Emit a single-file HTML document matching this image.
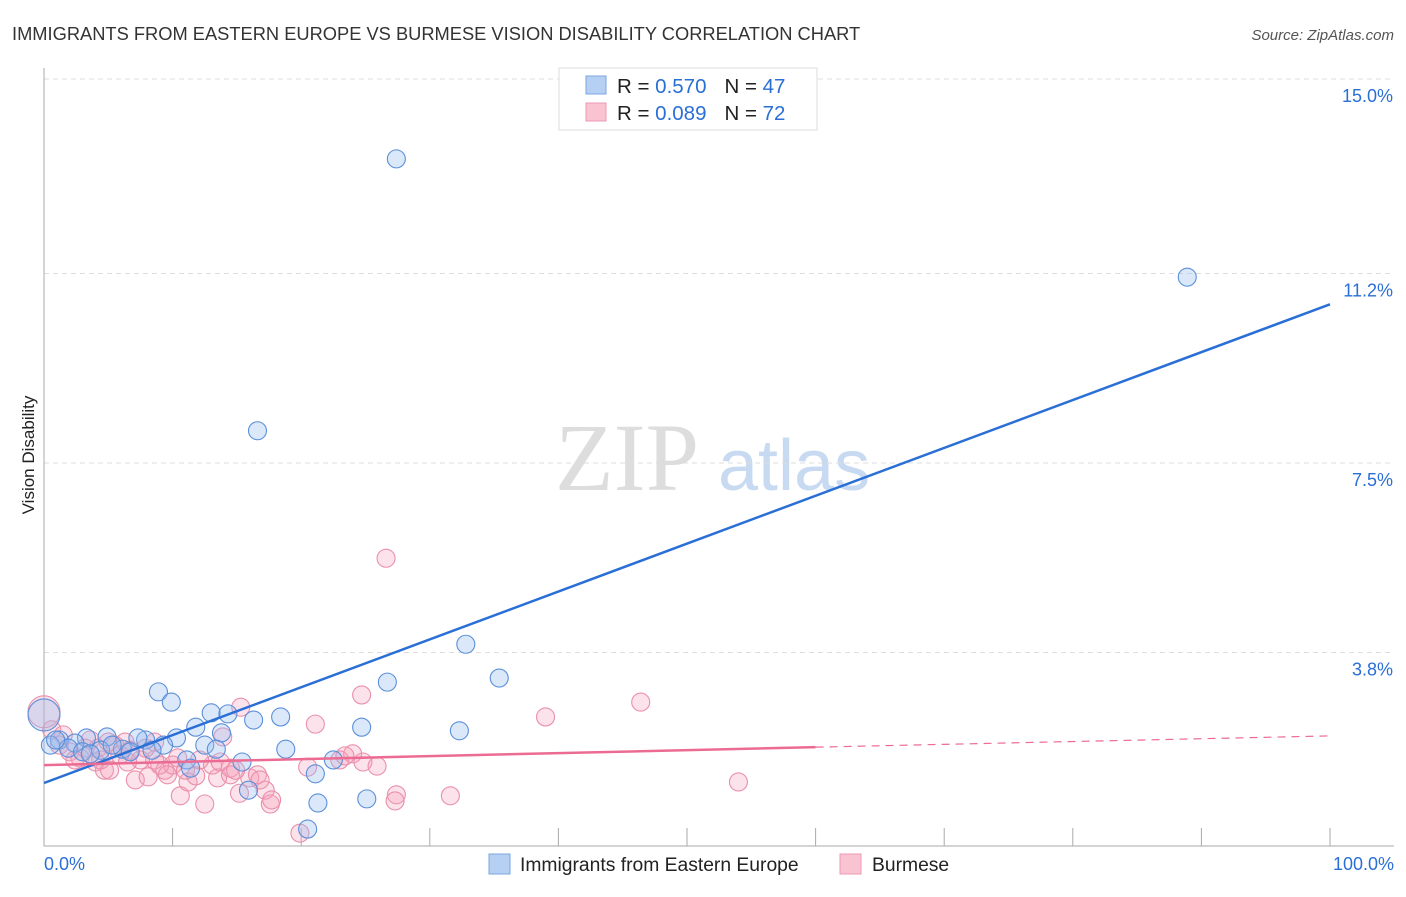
<!DOCTYPE html>
<html><head><meta charset="utf-8"><style>
body{margin:0;background:#fff;font-family:"Liberation Sans",sans-serif;}
svg text{font-family:"Liberation Sans",sans-serif;}
</style></head><body>
<svg id="chart" width="1406" height="892" xmlns="http://www.w3.org/2000/svg">
<text x="12" y="40" font-size="18.3" fill="#333">IMMIGRANTS FROM EASTERN EUROPE VS BURMESE VISION DISABILITY CORRELATION CHART</text>
<text x="1394" y="40" font-size="15" fill="#555" font-style="italic" text-anchor="end">Source: ZipAtlas.com</text>
<text x="34" y="455" font-size="17" fill="#222" text-anchor="middle" transform="rotate(-90 34 455)">Vision Disability</text>
<g>
<text x="555" y="490" font-size="96" fill="#ddd" font-family="Liberation Serif" style="font-family:'Liberation Serif',serif">ZIP</text>
<text x="718" y="490" font-size="72" fill="#c8daf2">atlas</text>
</g>
<g id="grid"></g><g id="axes"></g><g id="marks"></g><g id="lines"></g>
<g>
<rect x="559" y="68" width="258" height="62" fill="#fff" stroke="#ddd"/>
<rect x="586" y="76" width="20" height="18" fill="#b5d0f3" stroke="#7aa6e0"/>
<rect x="586" y="103" width="20" height="18" fill="#f9c3d2" stroke="#eb9ab2"/>
<text x="617" y="93" font-size="20.5" fill="#222">R = <tspan fill="#2a6fd6">0.570</tspan><tspan dx="18">N = </tspan><tspan fill="#2a6fd6">47</tspan></text>
<text x="617" y="120" font-size="20.5" fill="#222">R = <tspan fill="#2a6fd6">0.089</tspan><tspan dx="18">N = </tspan><tspan fill="#2a6fd6">72</tspan></text>
</g>
<g>
<rect x="489" y="854" width="21" height="20" fill="#b5d0f3" stroke="#7aa6e0"/>
<text x="520" y="871" font-size="19.3" fill="#222">Immigrants from Eastern Europe</text>
<rect x="840" y="854" width="21" height="20" fill="#f9c3d2" stroke="#eb9ab2"/>
<text x="872" y="871" font-size="19.3" fill="#222">Burmese</text>
</g>
</svg>
<script>
const yTicks=[3.8,7.5,11.2,15.0];
const yTickLabels=["3.8%","7.5%","11.2%","15.0%"];
const xTickLabels=["0.0%","100.0%"];
const blueX=[27.4,88.9,16.6,32.8,35.4,26.7,8.9,9.9,13.0,14.3,16.3,18.4,24.7,32.3,11.8,13.8,10.3,4.9,3.3,1.2,2.4,7.9,7.3,9.3,12.5,13.4,18.8,6.1,4.4,1.9,0.5,3.0,6.7,11.1,15.4,22.5,21.1,11.4,15.9,21.3,25.1,20.5,0,0.9,5.3,8.4,3.6];
const blueY=[13.44,11.13,8.13,3.96,3.30,3.22,3.03,2.83,2.62,2.60,2.48,2.54,2.34,2.27,2.34,2.23,2.13,2.15,2.13,2.09,2.03,2.09,2.13,1.99,1.99,1.91,1.91,1.91,1.89,1.93,1.99,1.86,1.86,1.70,1.66,1.70,1.43,1.54,1.11,0.86,0.94,0.35,2.58,2.09,1.99,1.89,1.82];
const pinkX=[26.6,46.4,24.7,39.0,15.3,21.1,13.9,0,0.6,1.2,2.0,2.8,4.0,4.7,5.5,6.3,7.1,8.1,8.6,9.4,10.0,10.6,11.2,11.8,12.5,13.1,13.5,14.5,15.2,16.0,16.6,17.2,17.6,19.9,20.5,23.0,24.0,24.8,25.9,27.4,27.3,31.6,54.0,3.6,4.4,5.1,7.5,9.0,5.9,6.7,2.4,3.2,10.4,12.1,13.7,14.5,7.9,8.6,1.5,4.2,5.0,6.5,9.6,11.0,23.4,14.9,16.8,17.7];
const pinkY=[5.64,2.83,2.97,2.54,2.73,2.40,2.15,2.64,2.29,1.99,1.86,1.74,1.66,1.50,1.99,2.05,1.31,1.37,1.70,1.50,1.60,1.00,1.27,1.39,0.84,1.60,1.35,1.54,1.05,1.35,1.41,1.11,0.84,0.27,1.56,1.70,1.82,1.66,1.58,1.02,0.90,1.00,1.27,2.09,1.70,1.50,1.70,1.60,1.80,1.89,1.70,1.93,1.74,1.70,1.66,1.41,1.93,2.05,2.19,1.93,2.05,1.66,1.41,1.50,1.78,1.50,1.31,0.92];
const blueTrend=[1.25,10.6];
const pinkTrend=[1.6,1.95,2.17];
const NS="http://www.w3.org/2000/svg";
const X=v=>44+v*12.86, Y=v=>847-v*51.2;
function mk(p,t,a){const e=document.createElementNS(NS,t);for(const k in a)e.setAttribute(k,a[k]);document.getElementById(p).appendChild(e);return e;}
yTicks.forEach((t,i)=>{
 const g=mk('grid','line',{x1:44,x2:1394,y1:Y(t),y2:Y(t),stroke:'#ddd','stroke-dasharray':'5,4'});
 
 
 const l=mk('grid','text',{x:1393,y:Y(t)+23,'text-anchor':'end','font-size':18,fill:'#2a6fd6'});
 l.textContent=yTickLabels[i];
 
 
});
const ax=mk('axes','path',{d:'M44,68V846H1394',stroke:'#aaa',fill:'none'});


for(let i=1;i<=10;i++){const t=mk('axes','line',{x1:44+i*128.6,x2:44+i*128.6,y1:828,y2:846,stroke:'#aaa'});
 
 }
[[44,'start'],[1394,'end']].forEach((p,i)=>{const t=mk('axes','text',{x:p[0],y:870,'text-anchor':p[1],'font-size':18,fill:'#2a6fd6'});t.textContent=xTickLabels[i];
 
 });
pinkX.forEach((x,i)=>{const c=mk('marks','circle',{cx:X(x),cy:Y(pinkY[i]),r:x===0?16:9,fill:'rgba(244,160,185,0.3)',stroke:'#ea8fab','stroke-width':1.1});
 
 });
blueX.forEach((x,i)=>{const c=mk('marks','circle',{cx:X(x),cy:Y(blueY[i]),r:x===0?16:9,fill:'rgba(150,190,240,0.35)',stroke:'#5b8fd9','stroke-width':1.1});
 
 });
const bl=mk('lines','line',{x1:X(0),y1:Y(blueTrend[0]),x2:X(100),y2:Y(blueTrend[1]),stroke:'#2a6fd6','stroke-width':2.5});


const pl=mk('lines','line',{x1:X(0),y1:Y(pinkTrend[0]),x2:X(60),y2:Y(pinkTrend[1]),stroke:'#ec6b93','stroke-width':2.5});


const pd=mk('lines','line',{x1:X(60),y1:Y(pinkTrend[1]),x2:X(100),y2:Y(pinkTrend[2]),stroke:'#ec6b93','stroke-width':1.2,'stroke-dasharray':'8,6'});


</script>
</body></html>
